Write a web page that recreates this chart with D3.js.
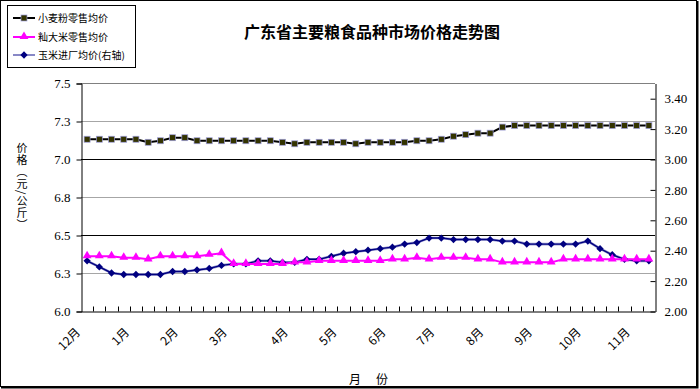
<!DOCTYPE html>
<html>
<head>
<meta charset="utf-8">
<script src="https://cdn.jsdelivr.net/npm/d3@7"></script>
<style>
  body { margin: 0; background: #fff; }
  svg { display: block; }
  .num { font-family: "Liberation Serif", "DejaVu Serif", serif; font-size: 13px; }
  .cjk { font-family: "Noto Sans CJK SC", sans-serif; }
</style>
</head>
<body>
<svg id="chart" width="700" height="389"></svg>
<script>
// Data (weekly, Dec - Nov)
const monthLabels = ["12月", "", "", "", "1月", "", "", "", "2月", "", "", "", "3月", "", "", "", "",
  "4月", "", "", "", "5月", "", "", "", "6月", "", "", "", "7月", "", "", "", "8月", "", "", "",
  "9月", "", "", "", "10月", "", "", "", "11月", ""];

const wheat = [7.13, 7.13, 7.13, 7.13, 7.13, 7.11, 7.12, 7.14, 7.14, 7.12, 7.12, 7.12, 7.12, 7.12, 7.12, 7.12,
  7.11, 7.10, 7.11, 7.11, 7.11, 7.11, 7.10, 7.11, 7.11, 7.11, 7.11, 7.12, 7.12, 7.13, 7.15, 7.16,
  7.17, 7.17, 7.21, 7.22, 7.22, 7.22, 7.22, 7.22, 7.22, 7.22, 7.22, 7.22, 7.22, 7.22, 7.22];

const rice = [6.36, 6.36, 6.36, 6.35, 6.35, 6.34, 6.36, 6.36, 6.36, 6.36, 6.37, 6.38, 6.31, 6.31, 6.31, 6.31,
  6.31, 6.32, 6.32, 6.33, 6.33, 6.33, 6.33, 6.33, 6.33, 6.34, 6.34, 6.35, 6.34, 6.35, 6.35, 6.35,
  6.34, 6.34, 6.32, 6.32, 6.32, 6.32, 6.32, 6.34, 6.34, 6.34, 6.34, 6.34, 6.34, 6.34, 6.34];

const corn = [2.33, 2.29, 2.25, 2.24, 2.24, 2.24, 2.24, 2.26, 2.26, 2.27, 2.28, 2.30, 2.31, 2.31, 2.33, 2.33,
  2.32, 2.32, 2.34, 2.34, 2.36, 2.38, 2.39, 2.40, 2.41, 2.42, 2.44, 2.45, 2.48, 2.48, 2.47, 2.47,
  2.47, 2.47, 2.46, 2.46, 2.44, 2.44, 2.44, 2.44, 2.44, 2.46, 2.41, 2.37, 2.34, 2.33, 2.33];

const leftTicks = [6.0, 6.25, 6.5, 6.75, 7.0, 7.25, 7.5];
const leftTickLabels = ["6.0", "6.3", "6.5", "6.8", "7.0", "7.3", "7.5"];
const rightTicks = [2.0, 2.2, 2.4, 2.6, 2.8, 3.0, 3.2, 3.4];
const rightTickLabels = ["2.00", "2.20", "2.40", "2.60", "2.80", "3.00", "3.20", "3.40"];

const seriesNames = ["小麦粉零售均价", "籼大米零售均价", "玉米进厂均价(右轴)"];

// Layout
const plot = { left: 81, right: 655, top: 83, bottom: 311 };
const svg = d3.select("#chart");

// outer frame
svg.append("rect").attr("x", 0.5).attr("y", 0.5).attr("width", 696).attr("height", 386)
  .attr("fill", "#fff").attr("stroke", "#000").attr("stroke-width", 1);
svg.append("path").attr("d", "M1,387.5H697.5V1").attr("fill", "none").attr("stroke", "#000").attr("stroke-width", 2);

// Scales
const idx = d3.range(monthLabels.length);
const xScale = d3.scaleBand().domain(idx).range([plot.left, plot.right]);
const xc = (i) => xScale(i) + xScale.bandwidth() / 2;
const yLeft = d3.scaleLinear().domain([6, 7.5]).range([plot.bottom, plot.top]);
const yRight = d3.scaleLinear().domain([2, 3.5]).range([plot.bottom, plot.top]);

// Gridlines
const grid = svg.append("g");
grid.selectAll("line").data(leftTicks.slice(1, -1)).join("line")
  .attr("x1", plot.left).attr("x2", plot.right)
  .attr("y1", (d) => Math.round(yLeft(d)) + 0.5).attr("y2", (d) => Math.round(yLeft(d)) + 0.5)
  .attr("stroke", (d) => (d % 0.5 === 0 ? "#000" : "#a6a6a6"))
  .attr("stroke-width", 1);

// plot top border
svg.append("line").attr("x1", plot.left).attr("x2", plot.right)
  .attr("y1", plot.top + 0.5).attr("y2", plot.top + 0.5).attr("stroke", "#808080");

// Left axis
const leftAxis = d3.axisLeft(yLeft).tickValues(leftTicks)
  .tickFormat((d, i) => leftTickLabels[i]).tickSizeOuter(0).tickSize(5).tickPadding(6);
const gL = svg.append("g").attr("transform", `translate(${plot.left + 0.5},0.5)`).call(leftAxis);

// Right axis (ticks pointing inward)
const rightAxis = d3.axisRight(yRight).tickValues(rightTicks)
  .tickFormat((d, i) => rightTickLabels[i]).tickSizeOuter(0).tickSize(0).tickPadding(9);
const gR = svg.append("g").attr("transform", `translate(${plot.right + 0.5},0.5)`).call(rightAxis);
gR.selectAll(".tick line").attr("x1", -5).attr("x2", 0);

// Bottom axis with ticks at category boundaries
const xAxis = d3.axisBottom(xScale).tickValues([]).tickSizeOuter(0);
const gX = svg.append("g").attr("transform", `translate(0,${plot.bottom + 0.5})`).call(xAxis);
gX.selectAll(".xtick").data(idx.slice(1)).join("line").attr("class", "xtick")
  .attr("x1", (d) => Math.round(xScale(d)) + 0.5).attr("x2", (d) => Math.round(xScale(d)) + 0.5)
  .attr("y1", 0).attr("y2", -5).attr("stroke", "#000");

[gL, gR, gX].forEach((g) => {
  g.select(".domain").attr("stroke", "#000");
  g.selectAll(".tick line").attr("stroke", "#000");
  g.selectAll("text").attr("class", "num").attr("fill", "#000").style("font-size", "13px")
    .style("font-family", "'Liberation Serif', serif");
});

// Month labels
svg.append("g").selectAll("text").data(idx.filter((i) => monthLabels[i] !== "")).join("text")
  .attr("class", "cjk")
  .attr("transform", (i) => `translate(${xc(i) - 6},${plot.bottom + 22}) rotate(-45)`)
  .attr("text-anchor", "end")
  .style("font-size", "12px")
  .text((i) => monthLabels[i]);

// Lines
const lineL = (data) => d3.line().x((d, i) => xc(i)).y((d) => yLeft(d))(data);
const lineR = (data) => d3.line().x((d, i) => xc(i)).y((d) => yRight(d))(data);

// corn
svg.append("path").attr("d", lineR(corn)).attr("fill", "none").attr("stroke", "#9b9bd0").attr("stroke-width", 2.6);
svg.append("path").attr("d", lineR(corn)).attr("fill", "none").attr("stroke", "#000080").attr("stroke-width", 1.4);
// rice
svg.append("path").attr("d", lineL(rice)).attr("fill", "none").attr("stroke", "#ff00ff").attr("stroke-width", 2);
// wheat
svg.append("path").attr("d", lineL(wheat)).attr("fill", "none").attr("stroke", "#000").attr("stroke-width", 2);

// markers
const diamond = d3.symbol().type(d3.symbolDiamond2).size(34);
const triangle = d3.symbol().type(d3.symbolTriangle).size(34);
svg.append("g").selectAll("path").data(corn).join("path")
  .attr("d", diamond).attr("transform", (d, i) => `translate(${xc(i)},${yRight(d)})`)
  .attr("fill", "#000080");
svg.append("g").selectAll("path").data(rice).join("path")
  .attr("d", triangle).attr("transform", (d, i) => `translate(${xc(i)},${yLeft(d) - 0.5})`)
  .attr("fill", "#ff00ff");
svg.append("g").selectAll("rect").data(wheat).join("rect")
  .attr("x", (d, i) => xc(i) - 3).attr("y", (d) => yLeft(d) - 3)
  .attr("width", 6).attr("height", 6)
  .attr("fill", "#333300").attr("stroke", "#a0a0e0").attr("stroke-width", 0.7);

// Title
svg.append("text").attr("class", "cjk").attr("x", 372).attr("y", 38)
  .attr("text-anchor", "middle").style("font-size", "16px").style("font-weight", "bold")
  .text("广东省主要粮食品种市场价格走势图");

// Axis titles
svg.append("text").attr("class", "cjk").attr("x", 22).attr("y", 142)
  .attr("writing-mode", "tb").style("font-size", "11px").style("letter-spacing", "1px")
  .text("价格（元/公斤）");
svg.append("text").attr("class", "cjk").attr("x", 355).attr("y", 384)
  .attr("text-anchor", "middle").style("font-size", "12px").text("月");
svg.append("text").attr("class", "cjk").attr("x", 382).attr("y", 384)
  .attr("text-anchor", "middle").style("font-size", "12px").text("份");

// Legend
const legend = svg.append("g");
legend.append("rect").attr("x", 7.5).attr("y", 5.5).attr("width", 128).attr("height", 62)
  .attr("fill", "#fff").attr("stroke", "#000");
const legendY = [18, 37, 55];
const legendColors = ["#000", "#ff00ff", "#6a6ab8"];
seriesNames.forEach((name, k) => {
  const y = legendY[k];
  legend.append("line").attr("x1", 13).attr("x2", 35).attr("y1", y).attr("y2", y)
    .attr("stroke", legendColors[k]).attr("stroke-width", k === 2 ? 1.6 : 2);
  if (k === 0) {
    legend.append("rect").attr("x", 21).attr("y", y - 3).attr("width", 6).attr("height", 6)
      .attr("fill", "#333300").attr("stroke", "#a0a0e0").attr("stroke-width", 0.7);
  } else if (k === 1) {
    legend.append("path").attr("d", triangle).attr("transform", `translate(24,${y - 0.5})`).attr("fill", "#ff00ff");
  } else {
    legend.append("path").attr("d", diamond).attr("transform", `translate(24,${y})`).attr("fill", "#000080");
  }
  legend.append("text").attr("class", "cjk").attr("x", 38).attr("y", y + 3.5)
    .style("font-size", "10px").text(name);
});
</script>
</body>
</html>
